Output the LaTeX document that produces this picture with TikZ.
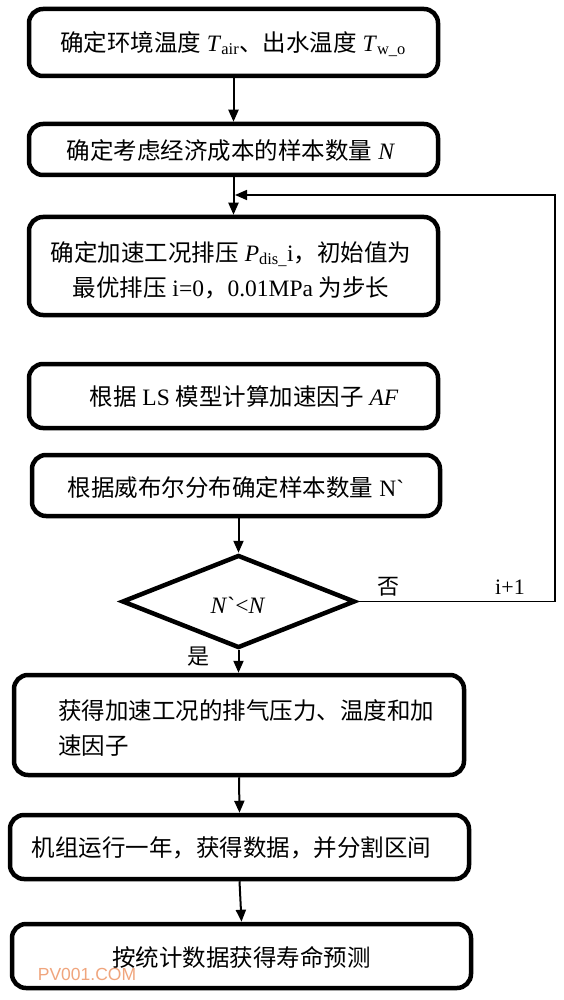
\documentclass[tikz,border=0pt]{standalone}
\usepackage{fontspec}
\setmainfont{Liberation Serif}
\newfontfamily\cjk{Noto Sans CJK SC}
\newfontfamily\wmfont{Liberation Sans}
\usetikzlibrary{shapes.geometric,arrows.meta}
\definecolor{wmc}{RGB}{240,165,125}
\begin{document}
\begin{tikzpicture}[x=1pt,y=-1pt,
  box/.style={draw, line width=4.5pt, rounded corners=14pt, rectangle, inner sep=0pt},
  dec/.style={draw, line width=4.5pt, diamond, inner sep=0pt, aspect=2.5},
  conn/.style={line width=2pt, -{Triangle[length=12pt,width=10pt]}},
  fbconn/.style={line width=1.6pt, -{Triangle[length=12pt,width=10pt]}},
  txt/.style={font=\fontsize{23.5}{35}\selectfont, inner sep=0pt},
  lbl/.style={font=\fontsize{22}{25}\selectfont, inner sep=0pt}]
\useasboundingbox (0,0) rectangle (563,1000);
\fill[white] (0,0) rectangle (563,1000);

% boxes
\node[box, minimum width=409pt, minimum height=67pt] (b1) at (233.5,42.5) {};
\node[box, minimum width=409pt, minimum height=51pt] (b2) at (233.5,149.5) {};
\node[box, minimum width=409pt, minimum height=98pt] (b3) at (233.5,266) {};
\node[box, minimum width=409pt, minimum height=64pt] (b4) at (233.5,396) {};
\node[box, minimum width=408pt, minimum height=61pt] (b5) at (236,485.5) {};
\node[dec, minimum width=233pt, minimum height=93pt] (d) at (238.5,601.5) {};
\node[box, minimum width=450pt, minimum height=100pt] (b6) at (239,725) {};
\node[box, minimum width=459pt, minimum height=64pt] (b7) at (239.5,847) {};
\node[box, minimum width=459pt, minimum height=64pt] (b8) at (241.5,956) {};

% texts
\node[txt] (t1) at (233,44) {{\cjk 确定环境温度} \textit{T}\textsubscript{air}{\cjk 、出水温度} \textit{T}\textsubscript{w\_o}};
\node[txt] (t2) at (231,151) {{\cjk 确定考虑经济成本的样本数量} \textit{N}};
\node[txt, align=center] (t3) at (231,270) {{\cjk 确定加速工况排压} \textit{P}\textsubscript{dis\_}i{\cjk ，初始值为}\\{\cjk 最优排压} i=0{\cjk ，}0.01MPa {\cjk 为步长}};
\node[txt] (t4) at (244,397) {{\cjk 根据} LS {\cjk 模型计算加速因子} \textit{AF}};
\node[txt] (t5) at (236,488) {{\cjk 根据威布尔分布确定样本数量} N\textasciigrave};
\node[txt] (t6) at (238,605) {\textit{N}\textasciigrave{}<\textit{N}};
\node[txt, align=left, anchor=west] (t7) at (58,728) {{\cjk 获得加速工况的排气压力、温度和加}\\{\cjk 速因子}};
\node[txt] (t8) at (231.5,848) {{\cjk 机组运行一年，获得数据，并分割区间}};
\node[txt] (t9) at (241.5,957) {{\cjk 按统计数据获得寿命预测}};
\node[font=\wmfont\fontsize{17.5}{20}\selectfont, text=wmc, inner sep=0pt] (wm) at (87,974) {PV001.COM};

% labels
\node[lbl] (no) at (388,587) {{\cjk 否}};
\node[lbl] (inc) at (510,587) {i+1};
\node[lbl] (yes) at (198,657) {{\cjk 是}};

% connectors
\draw[conn] (b1.south) -- (b2.north);
\draw[conn] (b2.south) -- (b3.north);
\draw[conn] (d.north |- b5.south) -- (d.north);
\draw[conn] (d.south) -- (d.south |- b6.north);
\draw[conn] (b6.south) -- (b7.north);
\draw[conn] (b7.south) -- (b8.north);
\coordinate (fbt) at (555,195);
\coordinate (fb) at (235,195);
\draw[fbconn] (d.east) -| (fbt) -- (fb);
\end{tikzpicture}
\end{document}
